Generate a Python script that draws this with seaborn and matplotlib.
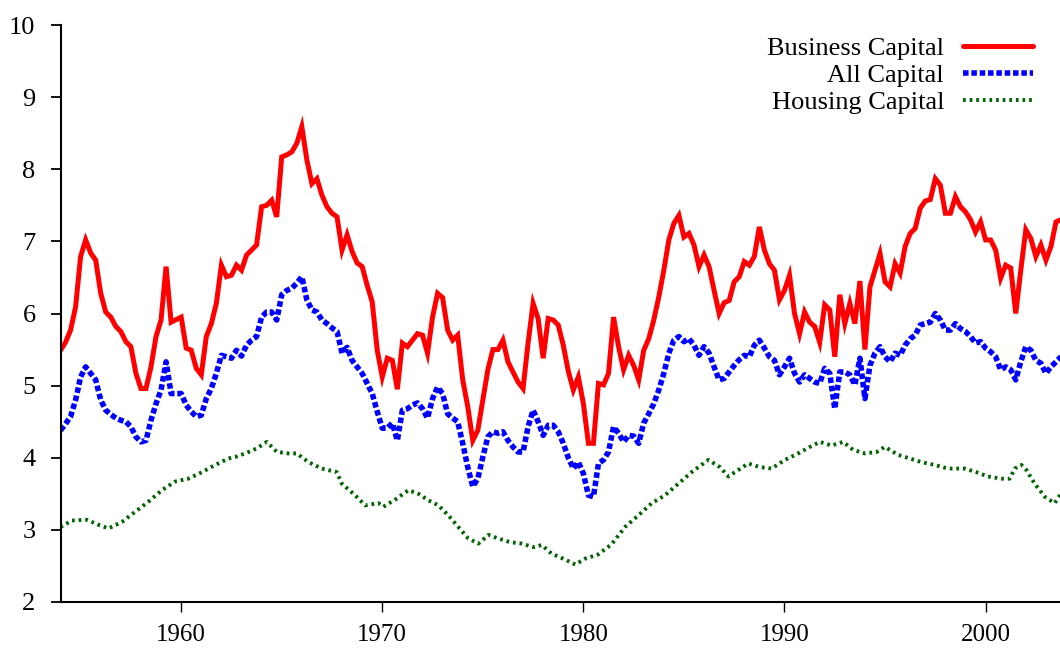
import matplotlib
matplotlib.use("Agg")
import matplotlib.pyplot as plt
import seaborn as sns

# business capital (quarterly)
biz_years = [
    1954.0, 1954.25, 1954.5, 1954.75, 1955.0, 1955.25, 1955.5, 1955.75,
    1956.0, 1956.25, 1956.5, 1956.75, 1957.0, 1957.25, 1957.5, 1957.75,
    1958.0, 1958.25, 1958.5, 1958.75, 1959.0, 1959.25, 1959.5, 1960.0,
    1960.25, 1960.5, 1960.75, 1961.0, 1961.25, 1961.5, 1961.75, 1962.0,
    1962.25, 1962.5, 1962.75, 1963.0, 1963.25, 1963.5, 1963.75, 1964.0,
    1964.25, 1964.5, 1964.75, 1965.0, 1965.25, 1965.5, 1965.75, 1966.0,
    1966.25, 1966.5, 1966.75, 1967.0, 1967.25, 1967.5, 1967.75, 1968.0,
    1968.25, 1968.5, 1968.75, 1969.0, 1969.25, 1969.5, 1969.75, 1970.0,
    1970.25, 1970.5, 1970.75, 1971.0, 1971.25, 1971.5, 1971.75, 1972.0,
    1972.25, 1972.5, 1972.75, 1973.0, 1973.25, 1973.5, 1973.75, 1974.0,
    1974.25, 1974.5, 1974.75, 1975.0, 1975.25, 1975.5, 1975.75, 1976.0,
    1976.25, 1976.5, 1976.75, 1977.0, 1977.25, 1977.5, 1977.75, 1978.0,
    1978.25, 1978.5, 1978.75, 1979.0, 1979.25, 1979.5, 1979.75, 1980.0,
    1980.25, 1980.5, 1980.75, 1981.0, 1981.25, 1981.5, 1981.75, 1982.0,
    1982.25, 1982.5, 1982.75, 1983.0, 1983.25, 1983.5, 1983.75, 1984.0,
    1984.25, 1984.5, 1984.75, 1985.0, 1985.25, 1985.5, 1985.75, 1986.0,
    1986.25, 1986.5, 1986.75, 1987.0, 1987.25, 1987.5, 1987.75, 1988.0,
    1988.25, 1988.5, 1988.75, 1989.0, 1989.25, 1989.5, 1989.75, 1990.0,
    1990.25, 1990.5, 1990.75, 1991.0, 1991.25, 1991.5, 1991.75, 1992.0,
    1992.25, 1992.5, 1992.75, 1993.0, 1993.25, 1993.5, 1993.75, 1994.0,
    1994.25, 1994.5, 1994.75, 1995.0, 1995.25, 1995.5, 1995.75, 1996.0,
    1996.25, 1996.5, 1996.75, 1997.0, 1997.25, 1997.5, 1997.75, 1998.0,
    1998.25, 1998.5, 1998.75, 1999.0, 1999.25, 1999.5, 1999.75, 2000.0,
    2000.25, 2000.5, 2000.75, 2001.0, 2001.25, 2001.5, 2001.75, 2002.0,
    2002.25, 2002.5, 2002.75, 2003.0, 2003.25, 2003.5, 2003.75,
]
biz_vals = [
    5.49, 5.60, 5.77, 6.09, 6.79, 7.02, 6.84, 6.74,
    6.28, 6.02, 5.95, 5.82, 5.75, 5.61, 5.54, 5.17,
    4.96, 4.96, 5.26, 5.68, 5.91, 6.65, 5.88, 5.95,
    5.52, 5.49, 5.24, 5.15, 5.68, 5.86, 6.14, 6.67,
    6.51, 6.53, 6.67, 6.60, 6.81, 6.88, 6.95, 7.48,
    7.50, 7.57, 7.34, 8.17, 8.20, 8.24, 8.36, 8.59,
    8.13, 7.80, 7.87, 7.64, 7.48, 7.39, 7.34, 6.88,
    7.09, 6.86, 6.70, 6.65, 6.39, 6.16, 5.49, 5.12,
    5.38, 5.35, 4.95, 5.59, 5.54, 5.63, 5.72, 5.70,
    5.45, 5.95, 6.28, 6.22, 5.77, 5.63, 5.70, 5.08,
    4.71, 4.24, 4.38, 4.80, 5.22, 5.50, 5.50, 5.63,
    5.33, 5.19, 5.05, 4.96, 5.59, 6.14, 5.93, 5.38,
    5.93, 5.91, 5.84, 5.56, 5.20, 4.94, 5.12, 4.75,
    4.20, 4.20, 5.03, 5.01, 5.17, 5.95, 5.54, 5.22,
    5.42, 5.28, 5.08, 5.49, 5.65, 5.91, 6.23, 6.60,
    7.02, 7.25, 7.36, 7.06, 7.11, 6.95, 6.65, 6.81,
    6.65, 6.32, 6.00, 6.15, 6.18, 6.44, 6.51, 6.72,
    6.67, 6.79, 7.20, 6.88, 6.69, 6.60, 6.19, 6.32,
    6.53, 6.00, 5.72, 6.02, 5.88, 5.82, 5.60, 6.12,
    6.05, 5.40, 6.26, 5.86, 6.14, 5.86, 6.45, 5.50,
    6.37, 6.60, 6.83, 6.44, 6.37, 6.69, 6.56, 6.93,
    7.11, 7.18, 7.46, 7.56, 7.58, 7.87, 7.78, 7.39,
    7.39, 7.62, 7.48, 7.41, 7.30, 7.13, 7.27, 7.02,
    7.02, 6.88, 6.49, 6.67, 6.63, 6.00, 6.60, 7.16,
    7.04, 6.79, 6.95, 6.74, 6.93, 7.27, 7.30,
]

# all capital, same quarters
all_years = biz_years
all_vals = [
    4.38, 4.47, 4.57, 4.80, 5.12, 5.26, 5.17, 5.08,
    4.80, 4.66, 4.60, 4.55, 4.52, 4.50, 4.43, 4.29,
    4.22, 4.24, 4.52, 4.75, 4.94, 5.33, 4.89, 4.89,
    4.73, 4.64, 4.57, 4.59, 4.82, 4.96, 5.17, 5.42,
    5.40, 5.38, 5.49, 5.41, 5.56, 5.63, 5.68, 5.95,
    6.02, 6.02, 5.91, 6.26, 6.32, 6.35, 6.42, 6.51,
    6.19, 6.05, 6.02, 5.91, 5.86, 5.80, 5.75, 5.45,
    5.53, 5.35, 5.26, 5.17, 5.03, 4.89, 4.64, 4.41,
    4.41, 4.48, 4.24, 4.66, 4.68, 4.73, 4.76, 4.68,
    4.55, 4.82, 4.98, 4.89, 4.61, 4.55, 4.50, 4.20,
    3.87, 3.60, 3.71, 4.01, 4.29, 4.36, 4.34, 4.36,
    4.24, 4.15, 4.08, 4.08, 4.43, 4.66, 4.50, 4.31,
    4.45, 4.45, 4.36, 4.20, 4.00, 3.85, 3.94, 3.78,
    3.48, 3.46, 3.92, 3.97, 4.08, 4.43, 4.34, 4.22,
    4.31, 4.30, 4.20, 4.48, 4.61, 4.75, 4.94, 5.17,
    5.45, 5.63, 5.68, 5.61, 5.65, 5.56, 5.42, 5.54,
    5.45, 5.26, 5.08, 5.10, 5.19, 5.28, 5.36, 5.42,
    5.40, 5.56, 5.63, 5.52, 5.40, 5.35, 5.15, 5.26,
    5.38, 5.17, 5.05, 5.15, 5.10, 5.05, 5.03, 5.24,
    5.17, 4.68, 5.19, 5.19, 5.15, 5.01, 5.38, 4.82,
    5.28, 5.45, 5.54, 5.40, 5.33, 5.45, 5.42, 5.56,
    5.65, 5.70, 5.84, 5.86, 5.88, 6.00, 5.91, 5.77,
    5.77, 5.86, 5.79, 5.75, 5.68, 5.59, 5.61, 5.52,
    5.47, 5.40, 5.22, 5.26, 5.22, 5.08, 5.33, 5.54,
    5.49, 5.35, 5.31, 5.17, 5.26, 5.33, 5.40,
]

# housing capital (smooth, read at coarser spacing)
house_years = [
    1954.0, 1954.57, 1955.3, 1955.89, 1956.39, 1957.05, 1957.71, 1958.37,
    1959.04, 1959.7, 1960.36, 1961.03, 1961.69, 1962.35, 1962.68, 1963.18,
    1963.76, 1964.26, 1964.76, 1965.33, 1965.75, 1966.33, 1966.99, 1967.74,
    1967.99, 1968.65, 1969.15, 1969.81, 1970.05, 1970.64, 1971.3, 1971.8,
    1972.29, 1972.79, 1973.29, 1973.78, 1974.28, 1974.78, 1975.28, 1975.77,
    1976.35, 1976.93, 1977.51, 1977.93, 1978.42, 1979.0, 1979.6, 1980.08,
    1980.74, 1981.4, 1982.07, 1982.73, 1983.4, 1984.06, 1984.72, 1985.38,
    1986.21, 1986.79, 1987.21, 1987.7, 1988.2, 1988.78, 1989.36, 1990.02,
    1990.68, 1991.26, 1991.76, 1992.34, 1992.92, 1993.41, 1994.0, 1994.58,
    1994.99, 1995.65, 1996.23, 1996.81, 1997.47, 1998.13, 1998.96, 1999.54,
    2000.12, 2000.79, 2001.2, 2001.45, 2001.78, 2002.03, 2002.44, 2002.94,
    2003.43, 2003.75,
]
house_vals = [
    3.04, 3.13, 3.14, 3.07, 3.02, 3.11, 3.25, 3.39,
    3.55, 3.67, 3.71, 3.80, 3.90, 3.99, 4.01, 4.06,
    4.13, 4.22, 4.08, 4.06, 4.06, 3.94, 3.85, 3.80,
    3.64, 3.48, 3.34, 3.37, 3.32, 3.42, 3.55, 3.50,
    3.41, 3.34, 3.20, 3.04, 2.88, 2.81, 2.93, 2.88,
    2.83, 2.81, 2.76, 2.79, 2.67, 2.60, 2.52, 2.60,
    2.66, 2.80, 3.04, 3.20, 3.37, 3.48, 3.64, 3.80,
    3.97, 3.87, 3.74, 3.83, 3.92, 3.87, 3.85, 3.97,
    4.06, 4.15, 4.22, 4.17, 4.22, 4.11, 4.06, 4.08,
    4.15, 4.04, 3.99, 3.94, 3.90, 3.85, 3.85, 3.80,
    3.74, 3.71, 3.71, 3.85, 3.90, 3.83, 3.64, 3.46,
    3.37, 3.50,
]

sns.set_style("ticks")
plt.rcParams["font.family"] = ["Liberation Serif", "DejaVu Serif"]
# seaborn greys the text and spines, the original is plain black
plt.rcParams.update({"text.color": "black", "xtick.color": "black",
                     "ytick.color": "black", "axes.edgecolor": "black"})

fig = plt.figure(figsize=(10.6, 6.51), dpi=100)
ax = fig.add_axes([60.5 / 1060, 1 - 602 / 651, 1 - 60.5 / 1060, (602 - 25) / 651])

sns.lineplot(x=biz_years, y=biz_vals, ax=ax, color="#ff0000", lw=3.6,
             label="Business Capital", solid_joinstyle="miter")
sns.lineplot(x=all_years, y=all_vals, ax=ax, color="#0000ff", lw=4.0,
             ls=(0, (1.0, 0.5)), dash_capstyle="butt", label="All Capital")
sns.lineplot(x=house_years, y=house_vals, ax=ax, color="#006400", lw=2.8,
             ls=(0, (0.7, 1.0)), dash_capstyle="butt", label="Housing Capital")

ax.set_xlim(1954.0, 2003.7)
ax.set_ylim(2, 10)
ax.set_xticks([1960, 1970, 1980, 1990, 2000])
ax.set_yticks(range(2, 11))
ax.tick_params(axis="y", direction="out", length=7, width=1.3, pad=11, labelsize=19)
ax.tick_params(axis="x", direction="out", length=7, width=1.0, pad=9, labelsize=18)
for side in ["top", "right"]:
    ax.spines[side].set_visible(False)
for side in ["left", "bottom"]:
    ax.spines[side].set_linewidth(1.5)
ax.set_xlabel("")
ax.set_ylabel("")

ax.legend(loc="upper right", bbox_to_anchor=(0.973, 0.98), frameon=False,
          markerfirst=False, fontsize=19, handlelength=2.65, handletextpad=0.72,
          labelspacing=0.13, borderpad=0, borderaxespad=0)

plt.savefig("out.png", dpi=100)
